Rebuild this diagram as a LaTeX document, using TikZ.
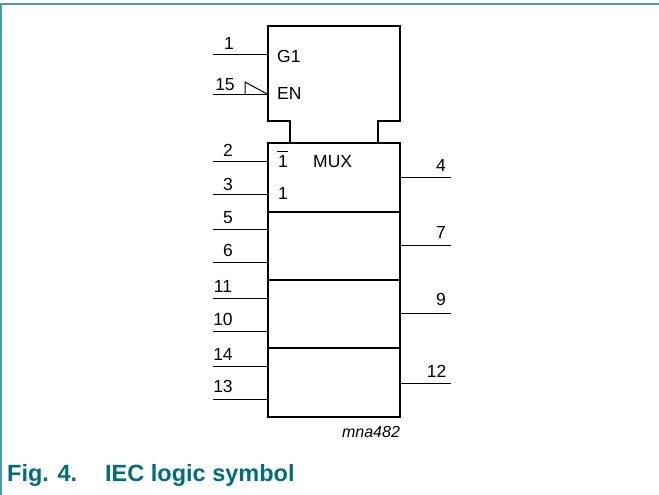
\documentclass[tikz,border=0pt]{standalone}
\usepackage{fontspec}
\setmainfont{Liberation Sans}
\definecolor{teal1}{HTML}{006E7A}
\definecolor{frame1}{HTML}{4A9DA8}
\tikzset{
  x=1pt,y=-1pt,
  thick box/.style={line width=2.3pt,line cap=rect,line join=miter,black},
  divider/.style={line width=1.5pt,black},
  pin/.style={line width=1pt,black},
  lab/.style={font=\fontsize{17.5}{20}\selectfont,inner sep=0pt,anchor=center},
  ins/.style={font=\fontsize{17.5}{20}\selectfont,inner sep=0pt,anchor=west},
  captxt/.style={font=\fontsize{23.5}{26}\selectfont\bfseries,text=teal1,inner sep=0pt,anchor=base west},
}
\begin{document}
\begin{tikzpicture}
\useasboundingbox (0,0) rectangle (659,495);
\draw[frame1,line width=1.5pt] (1,495) -- (1,4) -- (659,4);
% outline
\draw[thick box] (268,26) -- (400,26) -- (400,121) -- (378,121) -- (378,143) -- (400,143) -- (400,417) -- (268,417) -- (268,143) -- (290,143) -- (290,121) -- (268,121) -- cycle;
\draw[thick box] (268,143) -- (400,143);
\coordinate (dl1) at (268,212); \coordinate (dr1) at (400,212);
\coordinate (dl2) at (268,280); \coordinate (dr2) at (400,280);
\coordinate (dl3) at (268,348); \coordinate (dr3) at (400,348);
\draw[divider] (dl1) -- (dr1);
\draw[divider] (dl2) -- (dr2);
\draw[divider] (dl3) -- (dr3);
% left pins
\foreach \n/\y/\lx/\ly in {1/55/229/43,15/94.5/225/85,2/161/228/150,3/194.5/228/184,5/229/228/218,6/262/228/250,11/298/223/286,10/331/223/319,14/366/223/354,13/399/223/386}{
  \coordinate (a\n) at (213,\y);
  \coordinate (b\n) at (268,\y);
  \draw[pin] (a\n) -- (b\n);
  \node[lab] (t\n) at (\lx,\ly) {\n};
}
% right pins
\foreach \n/\y/\lx/\ly in {4/177.5/441/165,7/245/441/232,9/313.5/441/299,12/383/436.5/371}{
  \coordinate (a\n) at (400,\y);
  \coordinate (b\n) at (451,\y);
  \draw[pin] (a\n) -- (b\n);
  \node[lab] (t\n) at (\lx,\ly) {\n};
}
\coordinate (tr1) at (245,94.5);
\coordinate (tr2) at (245,82);
\draw[pin] (tr1) -- (tr2) -- (b15);
\node[ins] (g1) at (277,56) {G1};
\node[ins] (en) at (277,93) {EN};
\node[ins] (nb) at (278,161) {1};
\coordinate (o1) at (277,151); \coordinate (o2) at (288,151);
\draw[pin] (o1) -- (o2);
\node[ins] (one) at (278,193) {1};
\node[ins] (mux) at (313,162) {MUX};
\node[font=\fontsize{16}{18}\selectfont\itshape,inner sep=0pt] (code) at (371,432) {mna482};
\node[captxt] (fig) at (7,481) {Fig. 4.};
\node[captxt] (ttl) at (105,481) {IEC logic symbol};
\end{tikzpicture}
\end{document}
